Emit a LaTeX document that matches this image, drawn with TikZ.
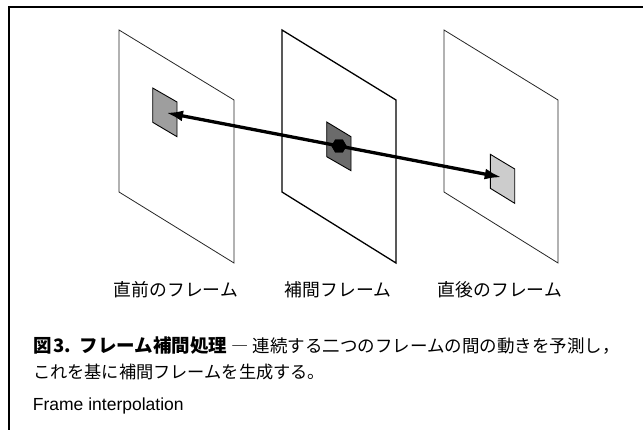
\documentclass[tikz,border=0pt]{standalone}
\usepackage{fontspec}
\setmainfont{Liberation Sans}
\newfontfamily\jp{Noto Sans CJK JP}
\usetikzlibrary{arrows.meta,shapes.geometric}
\begin{document}
\begin{tikzpicture}[x=1pt,y=-1pt,
  frame/.style={draw=black!85, line width=0.8pt},
  midframe/.style={draw=black, line width=1.3pt},
  patch/.style={draw=black, line width=0.9pt},
  mv/.style={line width=3.3pt, -{Latex[length=17pt,width=11pt]}},
  hexdot/.style={regular polygon, regular polygon sides=6, fill=black, minimum size=15pt, inner sep=0pt},
  lab/.style={font=\jp\fontsize{17.8}{20}\selectfont, anchor=base, inner sep=0pt},
  captxt/.style={font=\jp\fontsize{17.2}{20}\selectfont, anchor=base west, inner sep=0pt},
  entxt/.style={font=\fontsize{17.5}{20}\selectfont, anchor=base west, inner sep=0pt}]
\useasboundingbox (0,0) rectangle (643,430);
\draw[line width=1.2pt] (643,7) -- (9,7) -- (9,430);
% frames
\draw[frame] (119,30) -- (234,100) -- (234,263) -- (119,192) -- cycle;
\draw[midframe] (282,30) -- (396,100) -- (396,263) -- (282,192) -- cycle;
\draw[frame] (444,30) -- (558,100) -- (558,263) -- (444,192) -- cycle;
% patches
\draw[patch, fill=black!38] (152.7,88) -- (177,102) -- (177,136.7) -- (152.7,122.3) -- cycle;
\draw[patch, fill=black!58] (326.7,122) -- (351,136.7) -- (351,170.7) -- (326.7,156.7) -- cycle;
\draw[patch, fill=black!20] (490.3,154.3) -- (514.7,169) -- (514.7,203.3) -- (490.3,188.3) -- cycle;
\coordinate (pl) at (166,112.7);
\coordinate (pr) at (501.7,177.3);
\node[hexdot] (c) at (339,146) {};
\draw[mv] (c.center) -- (pl);
\draw[mv] (c.center) -- (pr);
\node[hexdot] (c2) at (339,146) {};
% labels
\node[lab] (l1) at (176,296.5) {直前のフレーム};
\node[lab] (l2) at (338,296.5) {補間フレーム};
\node[lab] (l3) at (500,296.5) {直後のフレーム};
% caption
\node[captxt] (t1) at (33,353) {{\bfseries\fontsize{18.5}{20}\selectfont 図\hspace{1.5pt}3.\hspace{9pt}フレーム補間処理}\hspace{4pt}―\hspace{4pt}{\fontsize{17.5}{20}\selectfont 連続する二つのフレームの間の動きを予測し，}};
\node[captxt] (t2) at (33,379) {これを基に補間フレームを生成する。};
\node[entxt] (t3) at (32.7,410.7) {Frame interpolation};
\end{tikzpicture}
\end{document}
